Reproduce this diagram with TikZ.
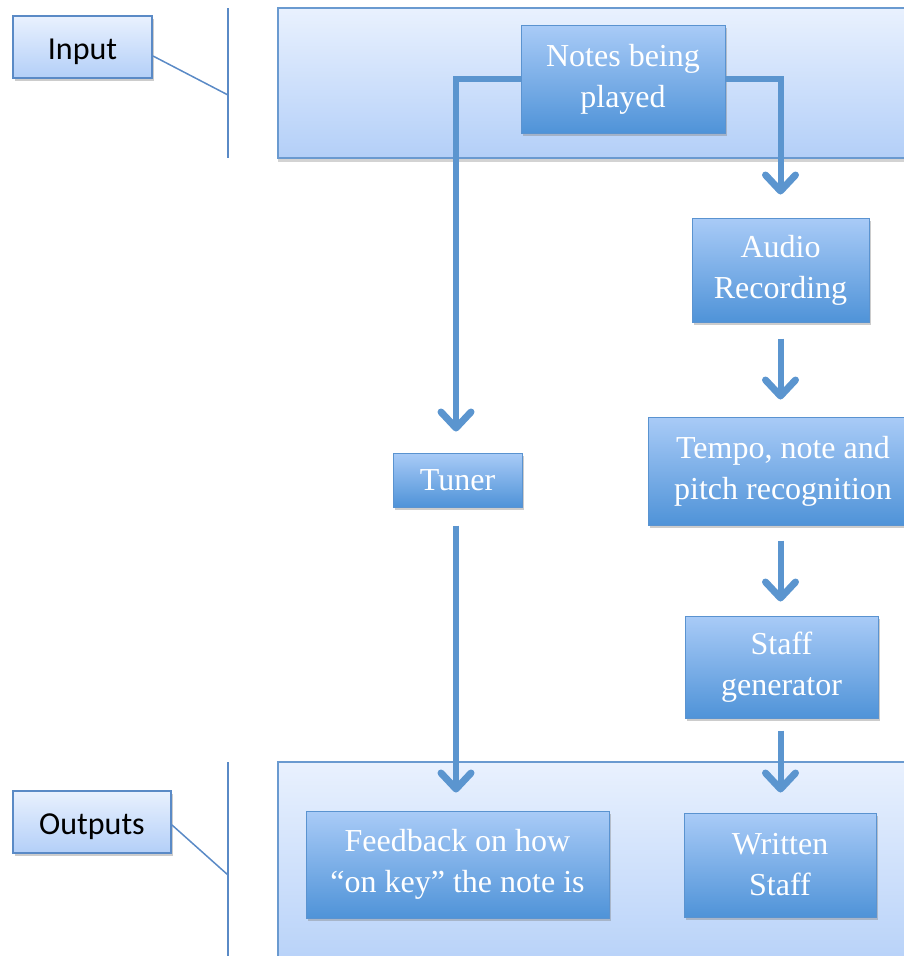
\documentclass[tikz,border=0pt]{standalone}
\usepackage{fontspec}
\setmainfont{Liberation Serif}
\newfontfamily\calib{Carlito}
\usetikzlibrary{arrows.meta,shadows,calc}
\definecolor{bigtop}{HTML}{E9F1FE}
\definecolor{bigbot}{HTML}{B3CFF8}
\definecolor{bigline}{HTML}{6A9AD0}
\definecolor{proctop}{HTML}{A9CBF7}
\definecolor{procbot}{HTML}{4F93D8}
\definecolor{procline}{HTML}{5A93D0}
\definecolor{callline}{HTML}{5A8AC6}
\definecolor{conncol}{HTML}{5B95CF}
\tikzset{
  bigbox/.style={draw=bigline, line width=2pt, top color=bigtop, bottom color=bigbot,
    rectangle, inner sep=0pt, drop shadow={opacity=0.35, shadow xshift=0pt, shadow yshift=-4pt}},
  procbox/.style={draw=procline, line width=1pt, top color=proctop, bottom color=procbot,
    rectangle, inner sep=0pt, align=center, text=white,
    font=\fontsize{32}{41}\selectfont,
    drop shadow={opacity=0.4, shadow xshift=1.5pt, shadow yshift=-3pt}},
  callbox/.style={draw=callline, line width=2pt, top color=bigtop, bottom color=bigbot,
    rectangle, inner sep=0pt, text=black, font=\calib\fontsize{32}{38}\selectfont,
    text height=25pt, text depth=0pt,
    drop shadow={opacity=0.4, shadow xshift=2pt, shadow yshift=-3pt}},
  calledge/.style={draw=callline, line width=1.5pt},
  conn/.style={draw=conncol, line width=6pt,
    -{Straight Barb[length=16pt,width=30pt,line width=7pt,round]}},
}
\begin{document}
\begin{tikzpicture}[x=1pt,y=-1pt]
\useasboundingbox (0,0) rectangle (904,956);
% big group boxes
\node[bigbox, minimum width=640pt, minimum height=150pt] (topbox) at (598,83) {};
\node[bigbox, minimum width=640pt, minimum height=220pt] (botbox) at (598,872) {};
% callouts
\node[callbox, minimum width=139pt, minimum height=62pt] (inp) at (82.5,47) {Input};
\node[callbox, minimum width=158pt, minimum height=62pt] (outp) at (92,822) {Outputs};
\coordinate (i1) at (228,8);
\coordinate (i2) at (228,158);
\coordinate (ij) at (228,95);
\coordinate (o1) at (228,762);
\coordinate (o2) at (228,960);
\coordinate (oj) at (228,875);
\draw[calledge] (i1) -- (i2);
\draw[calledge] (o1) -- (o2);
\draw[calledge] ([yshift=-9pt]inp.east) -- (ij);
\draw[calledge] ([yshift=-3pt]outp.east) -- (oj);
% process boxes
\node[procbox, minimum width=204pt, minimum height=108pt] (notes) at (623,79) {Notes being\\played};
\node[procbox, minimum width=177pt, minimum height=104pt] (audio) at (780.5,270) {Audio\\Recording};
\node[procbox, minimum width=270pt, minimum height=108pt] (tempo) at (783,471) {Tempo, note and\\pitch recognition};
\node[procbox, minimum width=193pt, minimum height=102pt] (staff) at (781.5,667) {Staff\\generator};
\node[procbox, minimum width=129pt, minimum height=54pt] (tuner) at (457.5,480) {Tuner};
\node[procbox, minimum width=303pt, minimum height=107pt] (feedback) at (457.5,864.5) {Feedback on how\\``on key'' the note is};
\node[procbox, minimum width=192pt, minimum height=104pt] (written) at (780,865) {Written\\Staff};
% connectors
\draw[conn, shorten >=21pt] (notes.west) -| ([xshift=-1.5pt]tuner.north);
\draw[conn, shorten >=23pt] (notes.east) -| (audio.north);
\draw[conn, shorten <=16pt, shorten >=17pt] (audio.south) -- (audio.south |- tempo.north);
\draw[conn, shorten <=15pt, shorten >=14pt] (audio.south |- tempo.south) -- (audio.south |- staff.north);
\draw[conn, shorten <=12pt, shorten >=20pt] (audio.south |- staff.south) -- (audio.south |- written.north);
\draw[conn, shorten <=18pt, shorten >=18pt] ([xshift=-1.5pt]tuner.south) -- ([xshift=-1.5pt]tuner.south |- feedback.north);
\end{tikzpicture}
\end{document}
